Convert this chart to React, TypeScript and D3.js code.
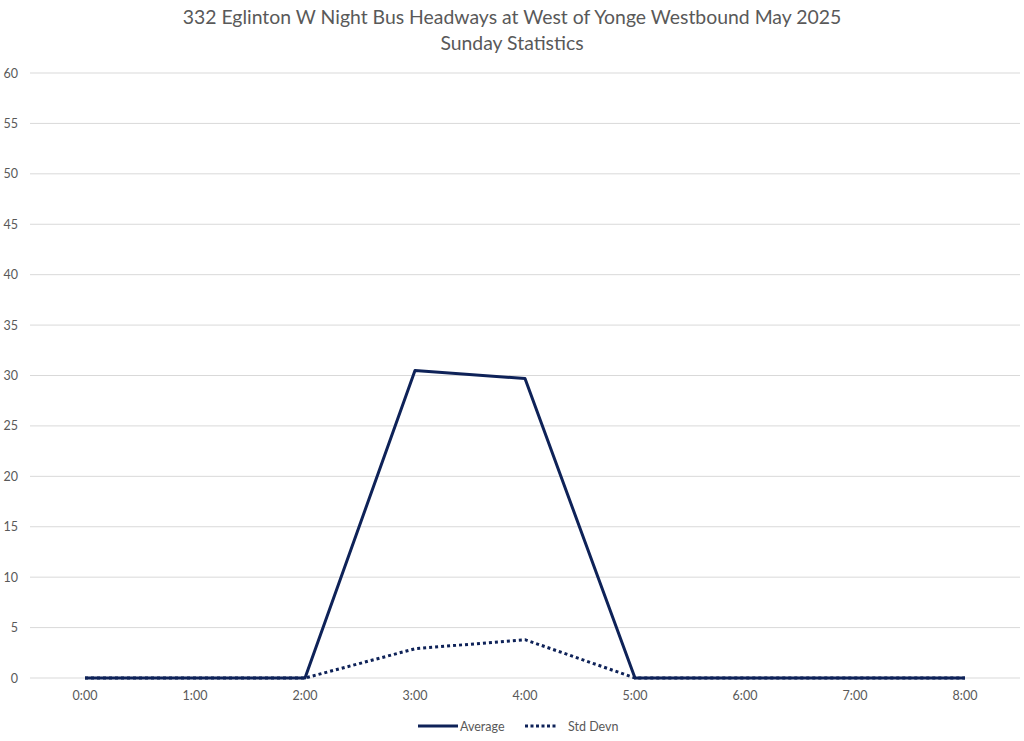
import React from "react";
import * as d3 from "d3";

const categories = ["0:00", "1:00", "2:00", "3:00", "4:00", "5:00", "6:00", "7:00", "8:00"];
const averageValues = [0, 0, 0, 30.5, 29.7, 0, 0, 0, 0];
const stdDevValues = [0, 0, 0, 2.9, 3.8, 0, 0, 0, 0];
const yTicks = [0, 5, 10, 15, 20, 25, 30, 35, 40, 45, 50, 55, 60];
const titleLines = ["332 Eglinton W Night Bus Headways at West of Yonge Westbound May 2025", "Sunday Statistics"];

const W = 1024, H = 741;
const left = 30, right = 1020, top = 73, bottom = 678;
const color = "#0e2258";
const font = "Lato, 'Open Sans', sans-serif";

export default function App() {
  const x = d3.scaleBand<string>().domain(categories).range([left, right]);
  const y = d3.scaleLinear().domain([0, 60]).range([bottom, top]);
  const cx = (c: string) => (x(c) as number) + x.bandwidth() / 2;
  const line = d3.line<number>().x((_, i) => cx(categories[i])).y((d) => y(d));
  return (
    <svg width={W} height={H} style={{ position: "absolute", left: 0, top: 0, background: "#fff" }}>
      <rect width={W} height={H} fill="#fff" />
      {titleLines.map((t, i) => (
        <text key={i} x={W / 2} y={24 + i * 26} textAnchor="middle" fontFamily={font} fontSize={19.4} fill="#595959">{t}</text>
      ))}
      {yTicks.map((t) => (
        <g key={t}>
          <line x1={left} x2={right} y1={y(t)} y2={y(t)} stroke="#d9d9d9" strokeWidth={1} />
          <text x={18} y={y(t) + 4.5} textAnchor="end" fontFamily={font} fontSize={12.5} fill="#595959">{t}</text>
        </g>
      ))}
      {categories.map((c) => (
        <text key={c} x={cx(c)} y={700} textAnchor="middle" fontFamily={font} fontSize={12.5} fill="#595959">{c}</text>
      ))}
      <path d={line(averageValues) || ""} fill="none" stroke={color} strokeWidth={3} strokeLinejoin="round" />
      <path d={line(stdDevValues) || ""} fill="none" stroke={color} strokeWidth={3} strokeDasharray="3 3" />
      <line x1={418} x2={458} y1={726} y2={726} stroke={color} strokeWidth={3} />
      <text x={460} y={730.5} fontFamily={font} fontSize={12.5} fill="#595959">Average</text>
      <line x1={525} x2={556} y1={726} y2={726} stroke={color} strokeWidth={3} strokeDasharray="3 2.5" />
      <text x={568} y={730.5} fontFamily={font} fontSize={12.5} fill="#595959">Std Devn</text>
    </svg>
  );
}
